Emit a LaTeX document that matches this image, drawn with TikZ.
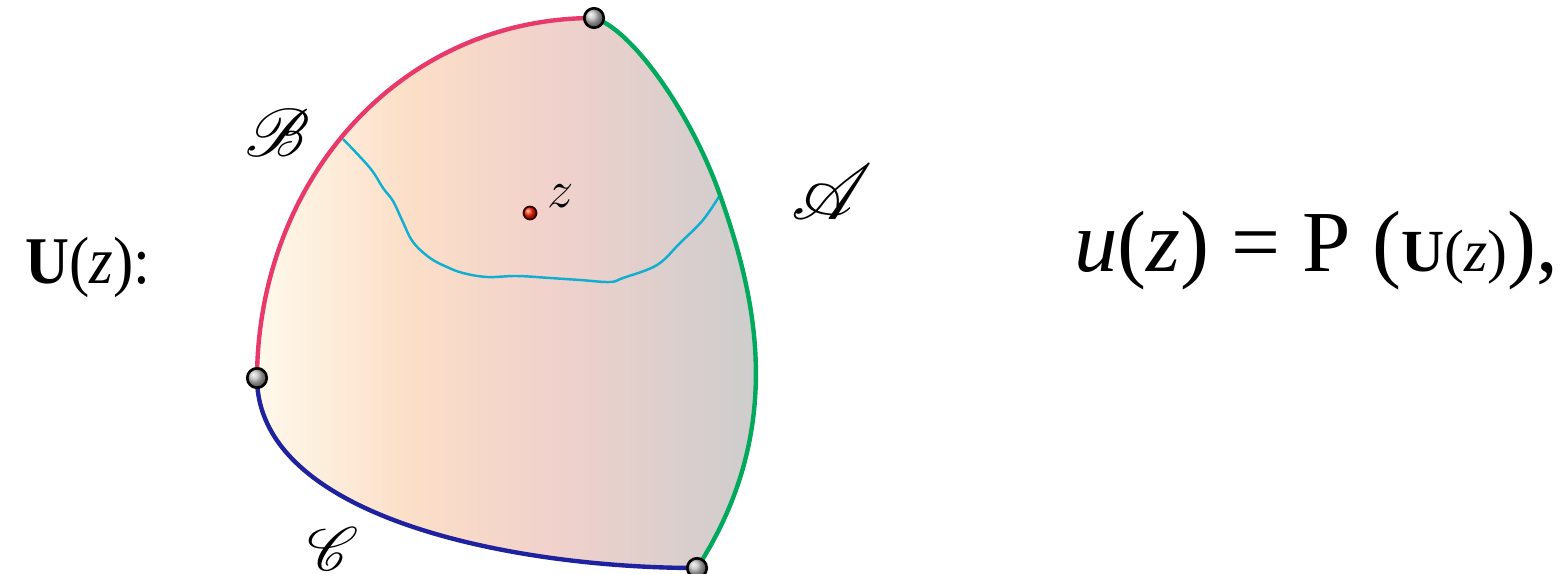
\RequirePackage{fix-cm}
\documentclass[tikz,border=0pt]{standalone}
\usepackage{fontspec}
\setmainfont{Liberation Serif}
\usepackage{mathrsfs}
\definecolor{cream}{HTML}{FEF8EA}
\definecolor{peach}{HTML}{FCDFC8}
\definecolor{pinkish}{HTML}{F0D1CC}
\definecolor{greyish}{HTML}{CDCDCD}
\definecolor{edgered}{HTML}{E8396B}
\definecolor{edgegreen}{HTML}{00A95C}
\definecolor{edgeblue}{HTML}{1E229E}
\definecolor{cutcyan}{HTML}{10AED0}
\pgfdeclarehorizontalshading{regionshade}{100bp}{color(0bp)=(cream); color(25.5bp)=(cream); color(40bp)=(peach); color(55bp)=(pinkish); color(75bp)=(greyish); color(100bp)=(greyish)}
\tikzset{
  vertexball/.style={circle, draw=black, line width=1.5pt, minimum size=0.39cm, inner sep=0pt, shading=ball, ball color=gray!50},
  pointball/.style={circle, draw=black!80!red, line width=1pt, minimum size=0.26cm, inner sep=0pt, shading=ball, ball color=red!70!orange},
  edge/.style={line width=2.5pt},
  cut/.style={line width=1.4pt, cutcyan},
  scriptlabel/.style={inner sep=0pt, font=\fontsize{34}{40}\selectfont},
}
\begin{document}
\begin{tikzpicture}[x=0.02cm, y=-0.02cm]
\useasboundingbox (0,0) rectangle (1564,574);
\coordinate (T) at (594,18);
\coordinate (L) at (257,378);
\coordinate (Bt) at (697,568);
\coordinate (M) at (720,195);
\coordinate (cB) at (343,139);
% region fill
\begin{scope}
\clip (L) .. controls (258,180) and (400,18) .. (T)
  .. controls (630,28) and (690,110) .. (M)
  .. controls (753,289) and (790,425) .. (Bt)
  .. controls (520,568) and (258,520) .. (L) -- cycle;
\shade[shading=regionshade] (257,0) rectangle (758,574);
\end{scope}
% cut curve
\draw[cut] plot[smooth, tension=0.6] coordinates {(cB) (370,168) (383,188) (393,201) (402,220) (413,242) (430,258) (447,267) (463,273) (487,277) (517,276) (550,278) (580,280) (610,282) (623,278) (657,265) (680,243) (703,220) (M)};
% boundary edges
\draw[edge, edgered] (L) .. controls (258,180) and (400,18) .. (T);
\draw[edge, edgegreen] (T) .. controls (630,28) and (690,110) .. (M)
  .. controls (753,289) and (790,425) .. (Bt);
\draw[edge, edgeblue] (L) .. controls (258,520) and (520,568) .. (Bt);
% vertices
\node[vertexball] (vT) at (T) {};
\node[vertexball] (vL) at (L) {};
\node[vertexball] (vB) at (Bt) {};
\node[pointball] (pz) at (530,213) {};
\node[font=\fontsize{30}{36}\selectfont, inner sep=0pt] (zl) at (561,196) {$z$};
% labels
\node[scriptlabel] (lB) at (278,133) {\scalebox{1.55}{$\mathscr{B}$}};
\node[scriptlabel] (lA) at (832,192) {\scalebox{1.8}{$\mathscr{A}$}};
\node[scriptlabel] (lC) at (333,549) {\scalebox{1.4}{$\mathscr{C}$}};
\node[anchor=base west, inner sep=0pt, font=\fontsize{38}{44}\selectfont] (Ulab) at (25,283) {\scalebox{0.91}[1]{\textbf{U}(\textit{z}):}};
\node[anchor=base west, inner sep=0pt, font=\fontsize{49.5}{56}\selectfont] (form) at (1074,271) {\textit{u}(\textit{z}) = P ({\fontsize{34}{40}\selectfont\textbf{U}(\textit{z})}),};
\end{tikzpicture}
\end{document}
